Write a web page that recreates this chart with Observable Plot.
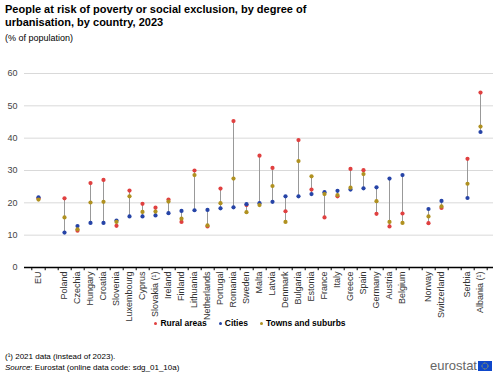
<!DOCTYPE html>
<html><head><meta charset="utf-8">
<script src="https://cdn.jsdelivr.net/npm/d3@7"></script>
<script src="https://cdn.jsdelivr.net/npm/@observablehq/plot@0.6"></script>
<style>
body{margin:0;font-family:"Liberation Sans",Arial,sans-serif;background:#fff;}
#wrap{position:relative;width:500px;height:376px;overflow:hidden;background:#fff}
#chart{position:absolute;left:0;top:0}
.title{position:absolute;left:5px;top:3px;font-weight:bold;font-size:11px;line-height:13px;color:#000}
.sub{position:absolute;left:5px;top:33px;font-size:9px;color:#000}
.legend{position:absolute;left:0;width:500px;top:318px;text-align:center;font-size:8.5px;font-weight:bold;color:#000}
.legend span.item{margin:0 6px;white-space:nowrap}
.legend span.dot{display:inline-block;width:3px;height:3px;border-radius:50%;margin-right:3px;vertical-align:middle}
.foot{position:absolute;left:5px;font-size:8px;color:#000}
.logo{position:absolute;left:430px;top:358px;font-size:13px;color:#666;letter-spacing:0}
</style></head><body>
<div id="wrap">
<div id="chart"></div>
<div class="title">People at risk of poverty or social exclusion, by degree of<br>urbanisation, by country, 2023</div>
<div class="sub">(% of population)</div>
<div class="legend" id="legend"></div>
<div class="foot" style="top:352px">(¹) 2021 data (instead of 2023).</div>
<div class="foot" style="top:363px"><i>Source</i>: Eurostat (online data code: sdg_01_10a)</div>
<div class="logo">eurostat<svg width="14" height="10" style="margin-left:1px;vertical-align:-1px"><rect width="14" height="10" fill="#0e47cb"/><circle cx="7" cy="5" r="3" fill="none" stroke="#ffdd00" stroke-width="0.8" stroke-dasharray="0.8 0.8"/></svg></div>
</div>
<script>
const countries = ["EU","Poland","Czechia","Hungary","Croatia","Slovenia","Luxembourg","Cyprus","Slovakia (¹)","Ireland","Finland","Lithuania","Netherlands","Portugal","Romania","Sweden","Malta","Latvia","Denmark","Bulgaria","Estonia","France","Italy","Greece","Spain","Germany","Austria","Belgium","Norway","Switzerland","Serbia","Albania (¹)"];
const rural  = [21.4,21.4,11.4,26.1,27.1,12.9,23.8,19.7,18.5,21.0,14.1,30.0,12.7,24.4,45.3,19.3,34.6,30.8,17.4,39.4,24.1,15.5,22.0,30.5,30.1,16.6,12.7,16.7,13.7,18.4,33.6,54.1];
const cities = [21.7,10.8,12.8,13.8,13.8,14.5,15.8,15.8,16.1,16.8,17.5,17.7,17.8,18.3,18.6,19.6,19.9,20.3,22.0,22.0,22.7,23.3,23.7,24.1,24.5,24.8,27.5,28.6,18.1,20.6,21.5,41.9];
const towns  = [21.0,15.5,11.8,20.1,20.3,14.1,22.0,17.2,17.3,20.4,15.1,28.6,13.0,19.9,27.5,17.1,19.3,25.2,14.1,32.9,28.2,22.7,22.4,24.7,28.9,20.5,14.1,13.8,15.8,18.9,25.9,43.6];
const order = ["EU"," ","Poland","Czechia","Hungary","Croatia","Slovenia","Luxembourg","Cyprus","Slovakia (¹)","Ireland","Finland","Lithuania","Netherlands","Portugal","Romania","Sweden","Malta","Latvia","Denmark","Bulgaria","Estonia","France","Italy","Greece","Spain","Germany","Austria","Belgium","  ","Norway","Switzerland","   ","Serbia","Albania (¹)"];
const yTicks = [0,10,20,30,40,50,60];
const seriesNames = ["Rural areas","Cities","Towns and suburbs"];
const seriesColors = ["#e04040","#2644a7","#b09120"];

const rows = countries.map((c,i)=>({country:c, rural:rural[i], cities:cities[i], towns:towns[i]}));
const W = 500, ML = 24, MR = 7;
const step = (W - ML - MR) / order.length;

const chart = Plot.plot({
  width: W, height: 376,
  marginLeft: ML, marginRight: MR, marginTop: 73, marginBottom: 109,
  style: {background: "transparent", fontFamily: "Liberation Sans, Arial, sans-serif", fontSize: "9px", color: "#333"},
  x: {domain: order, padding: 0, label: null},
  y: {domain: [0, 60], label: null},
  marks: [
    Plot.gridY(yTicks.filter(d => d > 0), {stroke: "#d9d9d9", strokeOpacity: 1}),
    Plot.axisY(yTicks, {tickSize: 0, tickPadding: 7, fill: "#444", label: null}),
    Plot.axisX({tickSize: 0, tickRotate: -90, tickPadding: 4, fill: "#333", label: null, tickFormat: d => d.trim() ? d : ""}),
    Plot.ruleX(rows, {x: "country", y1: d => Math.min(d.rural, d.cities, d.towns), y2: d => Math.max(d.rural, d.cities, d.towns), stroke: "#999", strokeWidth: 1}),
    Plot.dot(rows, {x: "country", y: "rural", r: 2.1, fill: seriesColors[0]}),
    Plot.dot(rows, {x: "country", y: "cities", r: 2.1, fill: seriesColors[1]}),
    Plot.dot(rows, {x: "country", y: "towns", r: 2.1, fill: seriesColors[2]}),
    Plot.ruleY([0], {stroke: "#000", strokeWidth: 1.5}),
    Plot.ruleX(order, {x: d => d, y1: 0, y2: -1, dx: step / 2, stroke: "#000"}),
    Plot.ruleX(order.slice(0, 1), {x: d => d, y1: 0, y2: -1, dx: -step / 2, stroke: "#000"})
  ]
});
document.getElementById("chart").appendChild(chart);

const lg = document.getElementById("legend");
seriesNames.forEach((n, i) => {
  const s = document.createElement("span");
  s.className = "item";
  s.innerHTML = `<span class="dot" style="background:${seriesColors[i]}"></span>${n}`;
  lg.appendChild(s);
});
</script>
</body></html>
